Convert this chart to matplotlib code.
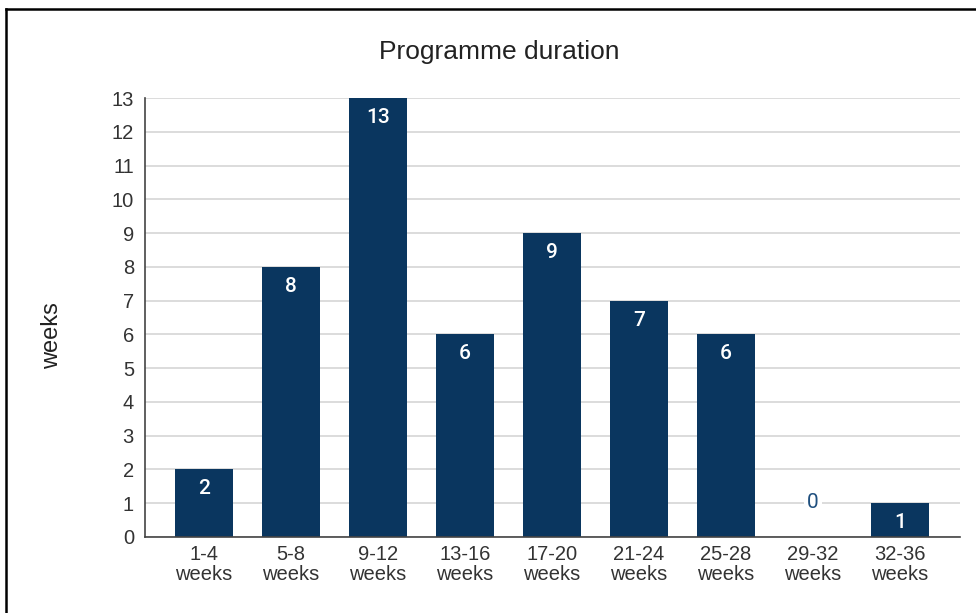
import matplotlib
matplotlib.use("Agg")
import matplotlib.pyplot as plt
from matplotlib.lines import Line2D

# ---------------------------------------------------------------------------
# Data
# ---------------------------------------------------------------------------
categories = ["1-4\nweeks", "5-8\nweeks", "9-12\nweeks", "13-16\nweeks",
              "17-20\nweeks", "21-24\nweeks", "25-28\nweeks", "29-32\nweeks",
              "32-36\nweeks"]
counts = [2, 8, 13, 6, 9, 7, 6, 0, 1]
y_ticks = list(range(0, 14))

BAR_COLOR = "#0a365f"
TEXT_COLOR = "#333333"

plt.rcParams["font.family"] = ["Liberation Sans", "DejaVu Sans"]

fig = plt.figure(figsize=(9.76, 6.13), dpi=100)
ax = fig.add_axes([145 / 976, 1 - 537 / 613, 815 / 976, 439 / 613])

x = list(range(len(categories)))
bars = ax.bar(x, counts, width=0.66, color=BAR_COLOR, zorder=3)

# value labels
for xi, v in zip(x, counts):
    if v >= 1:
        ax.annotate(str(v), (xi, v), xytext=(0, -14), textcoords="offset points",
                    ha="center", va="center", color="white", fontsize=15,
                    family=["Roboto", "DejaVu Sans"], fontweight="medium", zorder=4)
    else:
        ax.annotate(str(v), (xi, v), xytext=(0, 25), textcoords="offset points",
                    ha="center", va="center", color="#1f4f7e", fontsize=15,
                    family=["Roboto", "DejaVu Sans"], zorder=4,
                    bbox=dict(boxstyle="square,pad=0.15", fc="white", ec="none"))

ax.set_xlim(-0.68, 8.69)
ax.set_ylim(0, 13)
ax.set_yticks(y_ticks)
ax.set_xticks(x)
ax.set_xticklabels(categories, linespacing=1.05)
ax.tick_params(axis="both", length=0, labelsize=14.5, colors=TEXT_COLOR)
ax.tick_params(axis="y", pad=8)
ax.tick_params(axis="x", pad=6)

ax.grid(axis="y", color="#d6d6d6", lw=1.2, zorder=0)
ax.set_axisbelow(True)
for side in ("top", "right"):
    ax.spines[side].set_visible(False)
for side in ("left", "bottom"):
    ax.spines[side].set_color("#444444")
    ax.spines[side].set_linewidth(1.2)
    ax.spines[side].set_zorder(5)

fig.text(499 / 976, 1 - 52 / 613, "Programme duration", ha="center", va="center",
         fontsize=19, color="#222222")
fig.text(52 / 976, 1 - 336 / 613, "weeks", rotation=90, ha="center", va="center",
         fontsize=17, color="#222222")

# frame lines of the screenshot (top and left)
fig.add_artist(Line2D([6 / 976, 1], [1 - 9 / 613, 1 - 9 / 613],
                      transform=fig.transFigure, color="black", lw=1.8))
fig.add_artist(Line2D([6 / 976, 6 / 976], [0, 1 - 9 / 613],
                      transform=fig.transFigure, color="black", lw=1.8))

fig.savefig("out.png", dpi=100)
